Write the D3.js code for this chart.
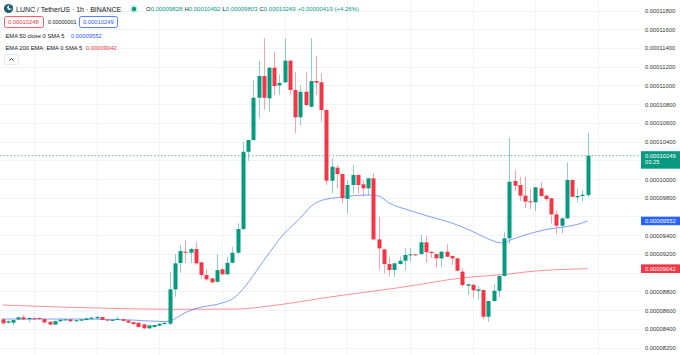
<!DOCTYPE html>
<html><head><meta charset="utf-8">
<script src="https://cdn.jsdelivr.net/npm/d3@7"></script>
<style>
html,body{margin:0;padding:0;background:#fff;overflow:hidden;}
svg{display:block;font-family:"Liberation Sans",Arial,sans-serif;}
</style></head><body><svg id="c" width="680" height="355"></svg>
<script>
// ---- DATA (LUNC / TetherUS, 1h candles) ----
const opens  = [8501e-8,8465e-8,8465e-8,8500e-8,8522e-8,8502e-8,8512e-8,8515e-8,8503e-8,8475e-8,8445e-8,8480e-8,8490e-8,8500e-8,8480e-8,8487e-8,8494e-8,8505e-8,8512e-8,8525e-8,8498e-8,8492e-8,8498e-8,8502e-8,8488e-8,8470e-8,8464e-8,8447e-8,8405e-8,8418e-8,8432e-8,8450e-8,
8454e-8,8821e-8,9102e-8,9223e-8,9212e-8,9252e-8,9110e-8,8974e-8,8938e-8,8902e-8,9035e-8,8982e-8,9105e-8,9212e-8,9466e-8,10291e-8,10416e-8,10868e-8,11100e-8,10862e-8,11189e-8,10999e-8,11033e-8,11264e-8,10951e-8,10659e-8,10932e-8,10772e-8,11047e-8,11033e-8,10737e-8,9982e-8,10121e-8,10053e-8,
9788e-8,9936e-8,10043e-8,9943e-8,9900e-8,10007e-8,9355e-8,9248e-8,9092e-8,9027e-8,9092e-8,9127e-8,9184e-8,9195e-8,9198e-8,9324e-8,9222e-8,9198e-8,9152e-8,9223e-8,9177e-8,9152e-8,9010e-8,8860e-8,8870e-8,8806e-8,8814e-8,8529e-8,8696e-8,8806e-8,8964e-8,9366e-8,
9978e-8,9936e-8,9822e-8,9762e-8,9751e-8,9900e-8,9822e-8,9794e-8,9622e-8,9501e-8,9580e-8,9989e-8,9804e-8,9818e-8,9828e-8];
const highs  = [8515e-8,8490e-8,8500e-8,8530e-8,8550e-8,8520e-8,8525e-8,8520e-8,8510e-8,8480e-8,8488e-8,8500e-8,8505e-8,8505e-8,8498e-8,8505e-8,8515e-8,8535e-8,8540e-8,8530e-8,8503e-8,8500e-8,8530e-8,8508e-8,8492e-8,8475e-8,8470e-8,8452e-8,8442e-8,8445e-8,8460e-8,8470e-8,
9006e-8,9198e-8,9295e-8,9348e-8,9262e-8,9327e-8,9115e-8,9035e-8,8945e-8,9198e-8,9045e-8,9170e-8,9277e-8,9526e-8,10398e-8,10420e-8,11057e-8,11264e-8,11503e-8,11195e-8,11360e-8,11118e-8,11503e-8,11270e-8,11146e-8,11000e-8,11146e-8,11503e-8,11314e-8,11129e-8,10745e-8,10221e-8,10149e-8,10060e-8,
9989e-8,10149e-8,10050e-8,9989e-8,10015e-8,10061e-8,9597e-8,9255e-8,9170e-8,9105e-8,9170e-8,9259e-8,9263e-8,9200e-8,9401e-8,9391e-8,9230e-8,9205e-8,9230e-8,9302e-8,9182e-8,9158e-8,9046e-8,8880e-8,8878e-8,8860e-8,8820e-8,8700e-8,8875e-8,8970e-8,9437e-8,10441e-8,
10096e-8,10024e-8,10024e-8,9900e-8,9918e-8,9968e-8,9830e-8,9800e-8,9668e-8,9590e-8,10178e-8,9995e-8,9900e-8,9882e-8,10492e-8];
const lows   = [8443e-8,8455e-8,8440e-8,8495e-8,8495e-8,8470e-8,8500e-8,8498e-8,8460e-8,8438e-8,8440e-8,8476e-8,8485e-8,8475e-8,8477e-8,8483e-8,8490e-8,8500e-8,8508e-8,8490e-8,8485e-8,8488e-8,8495e-8,8480e-8,8460e-8,8445e-8,8412e-8,8398e-8,8398e-8,8412e-8,8428e-8,8445e-8,
8440e-8,8742e-8,8999e-8,9102e-8,9102e-8,9081e-8,8939e-8,8913e-8,8885e-8,8895e-8,8975e-8,8975e-8,9095e-8,9200e-8,9455e-8,10195e-8,10410e-8,10651e-8,10737e-8,10716e-8,10897e-8,10897e-8,11025e-8,10897e-8,10491e-8,10569e-8,10780e-8,10762e-8,10897e-8,10612e-8,9936e-8,9847e-8,9900e-8,9740e-8,
9633e-8,9847e-8,9847e-8,9811e-8,9829e-8,9345e-8,9027e-8,8992e-8,8956e-8,8956e-8,9085e-8,9027e-8,9116e-8,9178e-8,9190e-8,9106e-8,9156e-8,9056e-8,9056e-8,9165e-8,9081e-8,9010e-8,8849e-8,8760e-8,8732e-8,8707e-8,8504e-8,8475e-8,8690e-8,8736e-8,8958e-8,9305e-8,
9872e-8,9765e-8,9686e-8,9679e-8,9658e-8,9810e-8,9765e-8,9525e-8,9409e-8,9420e-8,9572e-8,9800e-8,9751e-8,9765e-8,9803e-8];
const closes = [8458e-8,8480e-8,8493e-8,8522e-8,8500e-8,8515e-8,8510e-8,8505e-8,8468e-8,8445e-8,8482e-8,8497e-8,8500e-8,8480e-8,8492e-8,8500e-8,8510e-8,8518e-8,8526e-8,8496e-8,8490e-8,8495e-8,8506e-8,8485e-8,8466e-8,8450e-8,8420e-8,8405e-8,8437e-8,8440e-8,8453e-8,8463e-8,
8821e-8,9099e-8,9231e-8,9212e-8,9252e-8,9099e-8,8974e-8,8928e-8,8896e-8,9027e-8,8982e-8,9105e-8,9212e-8,9466e-8,10291e-8,10416e-8,10868e-8,11100e-8,10868e-8,11189e-8,10993e-8,11026e-8,11264e-8,10951e-8,10659e-8,10932e-8,10790e-8,11047e-8,11029e-8,10737e-8,9982e-8,10131e-8,10053e-8,9795e-8,
9936e-8,10043e-8,9936e-8,9900e-8,10007e-8,9355e-8,9259e-8,9092e-8,9027e-8,9099e-8,9127e-8,9188e-8,9195e-8,9185e-8,9324e-8,9217e-8,9209e-8,9152e-8,9223e-8,9170e-8,9152e-8,9020e-8,8867e-8,8875e-8,8811e-8,8821e-8,8529e-8,8696e-8,8806e-8,8964e-8,9366e-8,9971e-8,
9928e-8,9822e-8,9758e-8,9751e-8,9911e-8,9818e-8,9786e-8,9622e-8,9501e-8,9580e-8,9989e-8,9811e-8,9818e-8,9832e-8,10249e-8];

// EMA lines (candle index -> value)
const ema50Index  = [0,15,25,31,32,35,37,42,44,46,50,54,57,59,61,65,70,72,74,78,82,86,90,93,95,96,97,100,104,108,110,112];
const ema50Values = [8504e-8,8504e-8,8493e-8,8477e-8,8483e-8,8573e-8,8616e-8,8675e-8,8718e-8,8824e-8,9129e-8,9423e-8,9583e-8,9706e-8,9770e-8,9808e-8,9829e-8,9818e-8,9744e-8,9663e-8,9594e-8,9530e-8,9439e-8,9359e-8,9321e-8,9316e-8,9343e-8,9401e-8,9460e-8,9492e-8,9514e-8,9552e-8];
const ema200Index  = [0,22,34,45,52,63,76,89,97,100,112];
const ema200Values = [8654e-8,8616e-8,8608e-8,8611e-8,8650e-8,8742e-8,8840e-8,8950e-8,8985e-8,9006e-8,9042e-8];

const yTickValues = [8200e-8,8400e-8,8600e-8,8800e-8,9000e-8,9200e-8,9400e-8,9600e-8,9800e-8,10000e-8,10200e-8,10400e-8,10600e-8,10800e-8,11000e-8,11200e-8,11400e-8,11600e-8,11800e-8];
const xGridIndex = [6,18,30,42,54,66,78,90,102,114];
const lastPrice = 10249e-8, ema50Last = 9552e-8, ema200Last = 9042e-8;
const timeLeft = "03:25";

// ---- CHART ----
const UP="#089981", DOWN="#f23645", TXT="#131722";
const plotRight = 641;
const svg = d3.select("#c");
const x = d3.scaleLinear().domain([0,112]).range([2.5,587.7]);
const y = d3.scaleLinear().domain([8200e-8,11800e-8]).range([347.5,10.5]);
const fmt = d3.format(".8f");

// grid
const grid = svg.append("g");
grid.selectAll("line.h").data(yTickValues).join("line")
  .attr("x1",0).attr("x2",plotRight).attr("y1",d=>Math.round(y(d))+0.5).attr("y2",d=>Math.round(y(d))+0.5)
  .attr("stroke","#f0f3fa").attr("stroke-width",1);
grid.selectAll("line.v").data(xGridIndex).join("line")
  .attr("x1",d=>Math.round(x(d))+0.5).attr("x2",d=>Math.round(x(d))+0.5).attr("y1",0).attr("y2",355)
  .attr("stroke","#f0f3fa").attr("stroke-width",1);

// right axis (labels hidden where a price tag covers them, as in the reference)
const tagPrices = [lastPrice, ema50Last, ema200Last];
const visibleTicks = yTickValues.filter(v => tagPrices.every(t => Math.abs(y(v)-y(t)) > (t===lastPrice?13:8.5)));
const axis = d3.axisRight(y).tickValues(visibleTicks).tickFormat(fmt).tickSize(0).tickPadding(0);
const ag = svg.append("g").attr("transform",`translate(645,0)`).call(axis);
ag.select(".domain").remove();
ag.selectAll("text").attr("font-size","5.8px").attr("fill","#333").attr("font-family","Liberation Sans, Arial, sans-serif").attr("dy","0.35em");

// EMA lines
const line = d3.line().x(d=>x(d[0])).y(d=>y(d[1])).curve(d3.curveMonotoneX);
svg.append("path").attr("d",line(ema200Index.map((d,i)=>[d,ema200Values[i]])))
  .attr("fill","none").attr("stroke",DOWN).attr("stroke-opacity",0.55).attr("stroke-width",1);
svg.append("path").attr("d",line(ema50Index.map((d,i)=>[d,ema50Values[i]])))
  .attr("fill","none").attr("stroke","#2962ff").attr("stroke-opacity",0.6).attr("stroke-width",1);

// candles
const idx = d3.range(opens.length);
const cg = svg.append("g");
cg.selectAll("line").data(idx).join("line")
  .attr("x1",i=>Math.round(x(i))+0.5).attr("x2",i=>Math.round(x(i))+0.5)
  .attr("y1",i=>y(highs[i])).attr("y2",i=>y(lows[i]))
  .attr("stroke",i=>closes[i]>=opens[i]?UP:DOWN).attr("stroke-opacity",0.45).attr("stroke-width",1);
cg.selectAll("rect").data(idx).join("rect")
  .attr("x",i=>Math.round(x(i))-1.5).attr("width",4)
  .attr("y",i=>y(Math.max(opens[i],closes[i])))
  .attr("height",i=>Math.max(1,Math.abs(y(opens[i])-y(closes[i]))))
  .attr("fill",i=>closes[i]>=opens[i]?UP:DOWN);

// last price line
svg.append("line").attr("x1",0).attr("x2",plotRight).attr("y1",y(lastPrice)).attr("y2",y(lastPrice))
  .attr("stroke",UP).attr("stroke-dasharray","1.5,2").attr("stroke-opacity",0.8).attr("stroke-width",0.8);

// right price labels
function tag(v,color,h,extra){
  const cy=y(v);
  const g=svg.append("g");
  g.append("rect").attr("x",641).attr("y",h?cy-4.5:cy-4.3).attr("width",39).attr("height",h||8.6).attr("fill",color);
  g.append("text").attr("x",645).attr("y",cy).attr("dy","0.35em").attr("font-size","5.8px").attr("fill","#fff").text(fmt(v));
  if(extra) g.append("text").attr("x",645).attr("y",cy+6.6).attr("dy","0.35em").attr("font-size","5.8px").attr("fill","#fff").text(extra);
}
tag(lastPrice,UP,17.5,timeLeft);
tag(ema50Last,"#2962ff");
tag(ema200Last,DOWN);

// legend
const lg = svg.append("g");
lg.append("circle").attr("cx",8.5).attr("cy",8.5).attr("r",4.6).attr("fill","#1d5f73");
lg.append("circle").attr("cx",9.6).attr("cy",7.6).attr("r",2.4).attr("fill","#fff");
lg.append("circle").attr("cx",10.6).attr("cy",6.8).attr("r",1.9).attr("fill","#1d5f73");
lg.append("text").attr("x",16).attr("y",11.5).attr("font-size","7px").attr("fill",TXT).text("LUNC / TetherUS · 1h · BINANCE");
lg.append("circle").attr("cx",134).attr("cy",9).attr("r",4).attr("fill",UP).attr("fill-opacity",0.18);
lg.append("circle").attr("cx",134).attr("cy",9).attr("r",2.2).attr("fill",UP);
const ohlc = lg.append("text").attr("x",146).attr("y",11).attr("font-size","6px");
[["O","0.00009828"],["H","0.00010492"],["L","0.00009803"],["C","0.00010249"]].forEach((p,k)=>{
  ohlc.append("tspan").attr("fill",TXT).attr("dx",k?2:0).text(p[0]);
  ohlc.append("tspan").attr("fill",UP).text(p[1]);
});
ohlc.append("tspan").attr("fill",UP).attr("dx",2).text("+0.00000419 (+4.26%)");

lg.append("rect").attr("x",4.5).attr("y",16.5).attr("width",39).attr("height",11).attr("rx",2).attr("fill","#fff").attr("stroke",DOWN).attr("stroke-width",0.8);
lg.append("text").attr("x",8).attr("y",24.2).attr("font-size","5.8px").attr("fill",DOWN).text("0.00010248");
lg.append("text").attr("x",48).attr("y",24.2).attr("font-size","5.4px").attr("fill",TXT).text("0.00000001");
lg.append("rect").attr("x",79.5).attr("y",16.5).attr("width",38).attr("height",11).attr("rx",2).attr("fill","#fff").attr("stroke","#2962ff").attr("stroke-width",0.8);
lg.append("text").attr("x",83).attr("y",24.2).attr("font-size","5.8px").attr("fill","#2962ff").text("0.00010249");

lg.append("text").attr("x",5.5).attr("y",37.8).attr("font-size","5.8px").attr("fill",TXT).text("EMA 50 close 0 SMA 5");
lg.append("text").attr("x",71).attr("y",37.8).attr("font-size","5.8px").attr("fill","#2962ff").text("0.00009552");
lg.append("text").attr("x",5.5).attr("y",50).attr("font-size","5.8px").attr("fill",TXT).text("EMA 200 EMA: EMA 0 SMA 5");
lg.append("text").attr("x",86).attr("y",50).attr("font-size","5.8px").attr("fill",DOWN).text("0.00009042");

lg.append("rect").attr("x",4.5).attr("y",54.5).attr("width",14).attr("height",10).attr("rx",2).attr("fill","#fff").attr("stroke","#e0e3eb").attr("stroke-width",0.8);
lg.append("path").attr("d","M9.5,60.5 L11.5,58.5 L13.5,60.5").attr("fill","none").attr("stroke",TXT).attr("stroke-width",0.9);
</script></body></html>
